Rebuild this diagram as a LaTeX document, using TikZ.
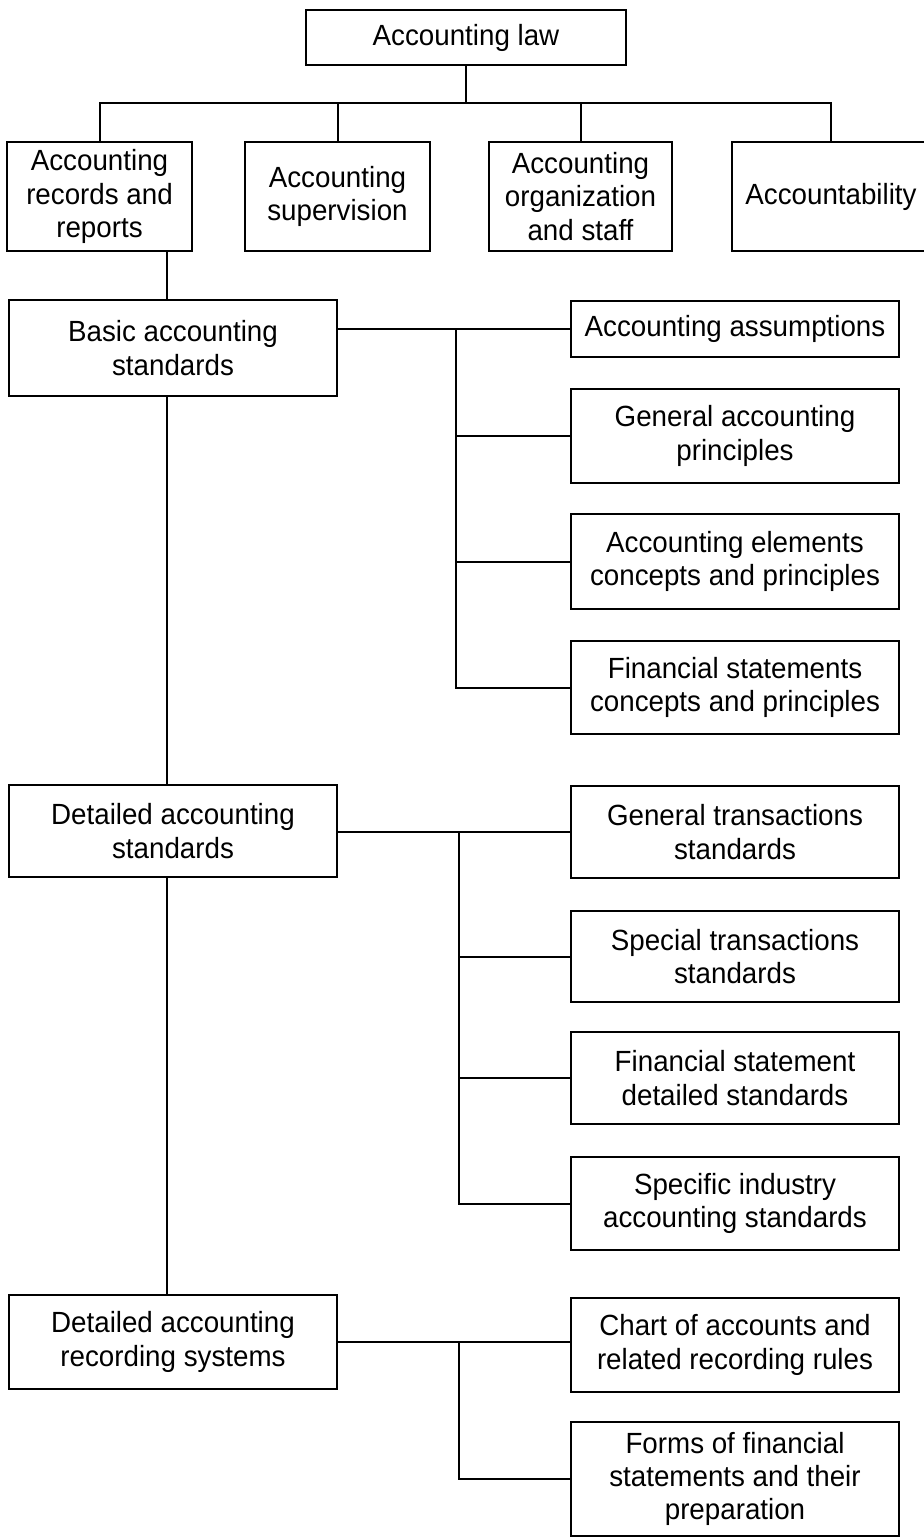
\documentclass[tikz,border=0pt]{standalone}
\usepackage{fontspec}
\setmainfont{Liberation Sans}[FakeStretch=0.95]
\begin{document}
\begin{tikzpicture}[x=0.5pt,y=-0.5pt,
  line width=1pt,
  box/.style={draw, fill=white, inner sep=0pt, align=center,
    font=\fontsize{14.6}{16.6}\selectfont},
  topw/.style={box, minimum width=92.5pt, minimum height=54.5pt},
  colw/.style={box, minimum width=164pt}]
\useasboundingbox (0,0) rectangle (923,1539);

% top level
\node[box, minimum width=160pt, minimum height=27.5pt] (law) at (466,37.5) {Accounting law};

% second level
\node[topw] (rec)  at (99.5,196.5)  {Accounting\\records and\\reports};
\node[topw] (sup)  at (337.5,196.5) {Accounting\\supervision};
\node[topw, minimum width=91.5pt] (org) at (580.5,196.5) {Accounting\\organization\\and staff};
\node[topw, minimum width=99pt] (acct) at (831,196.5) {Accountability};

% left column
\node[colw, minimum height=48pt] (basic)  at (173,348)  {Basic accounting\\standards};
\node[colw, minimum height=46pt] (det)    at (173,831)  {Detailed accounting\\standards};
\node[colw, minimum height=47pt] (recsys) at (173,1342) {Detailed accounting\\recording systems};

% right column
\node[colw, minimum height=28pt]   (ass)   at (735,329)    {Accounting assumptions};
\node[colw, minimum height=47pt]   (gap)   at (735,436)    {General accounting\\principles};
\node[colw, minimum height=47.5pt] (elem)  at (735,561.5)  {Accounting elements\\concepts and principles};
\node[colw, minimum height=46.5pt] (fin)   at (735,687.5)  {Financial statements\\concepts and principles};
\node[colw, minimum height=46pt]   (gts)   at (735,832)    {General transactions\\standards};
\node[colw, minimum height=45.5pt] (sts)   at (735,956.5)  {Special transactions\\standards};
\node[colw, minimum height=46pt]   (fsd)   at (735,1078)   {Financial statement\\detailed standards};
\node[colw, minimum height=46.5pt] (sia)   at (735,1203.5) {Specific industry\\accounting standards};
\node[colw, minimum height=47pt]   (chart) at (735,1345)   {Chart of accounts and\\related recording rules};
\node[colw, minimum height=57pt]   (forms) at (735,1479)   {Forms of financial\\statements and their\\preparation};

% branch lines
\coordinate (trunk) at (167,0);
\coordinate (b1) at (456,0);
\coordinate (b2) at (459,0);

\foreach \n in {rec,sup,org,acct}
  \draw (law.south) -- ++(0,37) -| (\n.north);

\draw (rec.south -| trunk) -- (basic.north -| trunk);
\draw (basic.south -| trunk) -- (det.north -| trunk);
\draw (det.south -| trunk) -- (recsys.north -| trunk);

\draw (basic.east |- ass.west) -- (ass.west);
\foreach \n in {gap,elem,fin}
  \draw (ass.west -| b1) |- (\n.west);

\draw (det.east |- gts.west) -- (gts.west);
\foreach \n in {sts,fsd,sia}
  \draw (gts.west -| b2) |- (\n.west);

\draw (recsys.east) -- (recsys.east -| chart.west);
\draw (recsys.east -| b2) |- (forms.west);
\end{tikzpicture}
\end{document}
